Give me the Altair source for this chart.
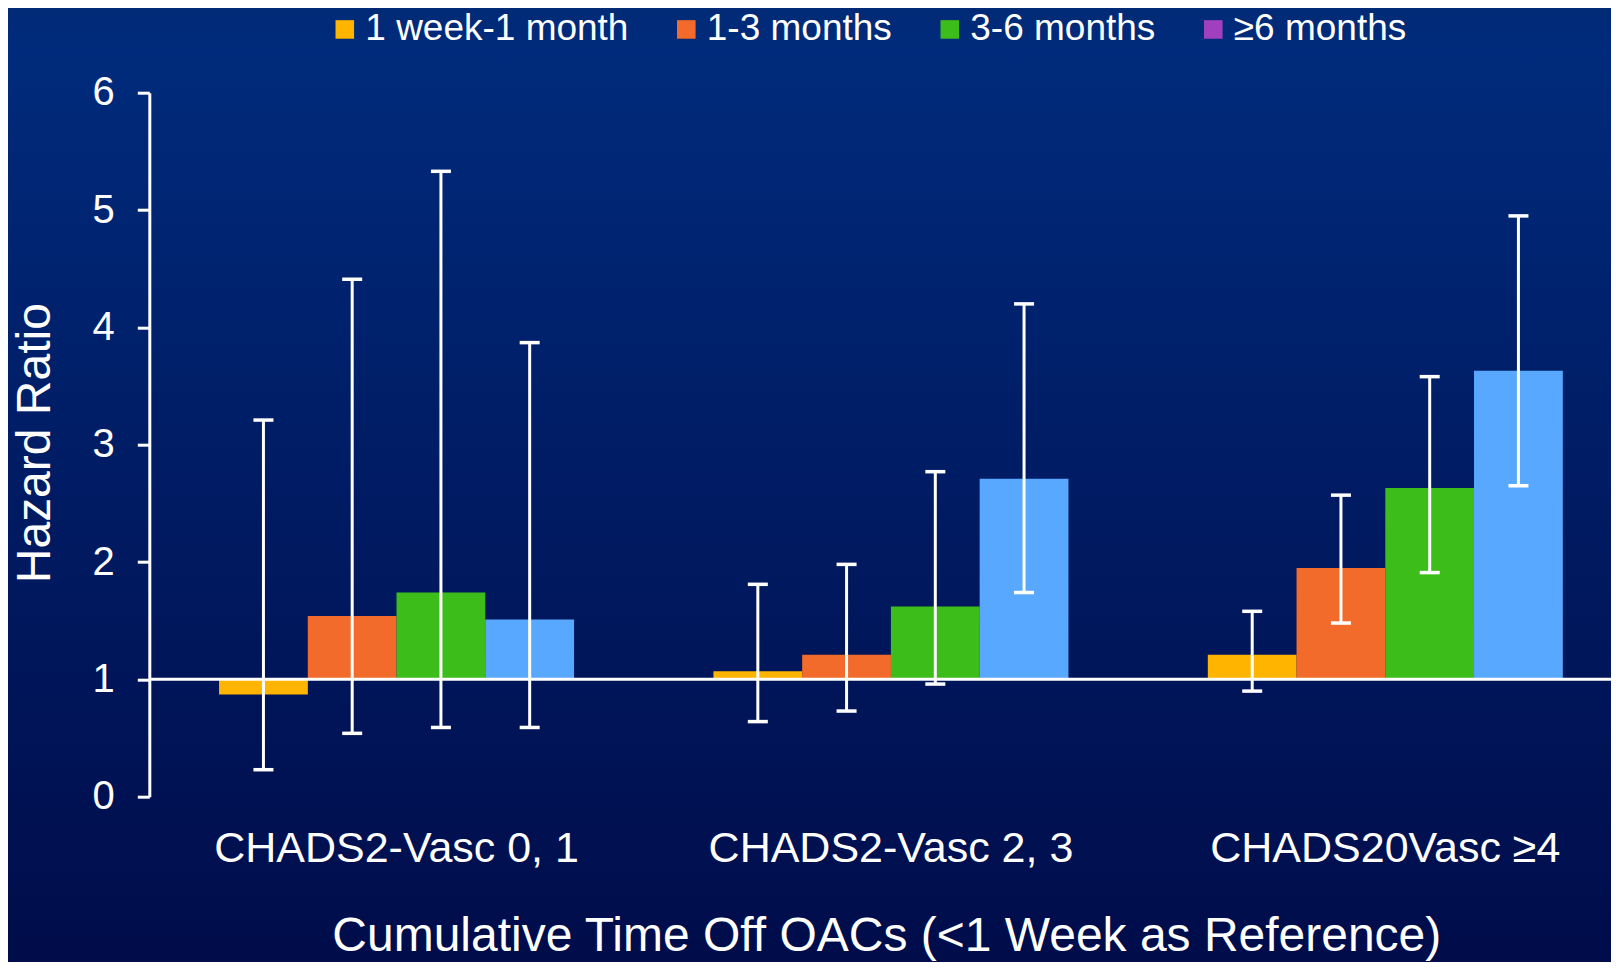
import altair as alt
import pandas as pd

groups = ["CHADS2-Vasc 0, 1", "CHADS2-Vasc 2, 3", "CHADS20Vasc ≥4"]
series = ["1 week-1 month", "1-3 months", "3-6 months", "≥6 months"]

hr_g1 = [0.87, 1.54, 1.74, 1.51]
hr_g2 = [1.07, 1.21, 1.62, 2.71]
hr_g3 = [1.21, 1.95, 2.63, 3.63]

lo_g1 = [0.23, 0.54, 0.59, 0.59]
lo_g2 = [0.64, 0.73, 0.96, 1.74]
lo_g3 = [0.90, 1.48, 1.91, 2.65]

hi_g1 = [3.21, 4.41, 5.33, 3.87]
hi_g2 = [1.81, 1.98, 2.77, 4.20]
hi_g3 = [1.58, 2.57, 3.58, 4.95]

y_ticks = [0, 1, 2, 3, 4, 5, 6]

bar_colors = ["#FFB400", "#F26B2A", "#3CBD1A", "#58A8FF"]
legend_colors = ["#FFB400", "#F26B2A", "#3CBD1A", "#A040C0"]

rows = []
for g, hrs, los, his in zip(groups, [hr_g1, hr_g2, hr_g3], [lo_g1, lo_g2, lo_g3], [hi_g1, hi_g2, hi_g3]):
    for s, h, l, u in zip(series, hrs, los, his):
        rows.append({"group": g, "series": s, "hr": h, "lo": l, "hi": u})
df = pd.DataFrame(rows)

W, H = 1462, 704
PL, PT, PB = 141.3, 84.7, 165
FONT = "Liberation Sans"

x_enc = alt.X("group:N", sort=groups,
              scale=alt.Scale(domain=groups, paddingInner=0.282, paddingOuter=0.1196, align=0.59),
              axis=alt.Axis(title="Cumulative Time Off OACs (<1 Week as Reference)",
                            domain=False, ticks=False, tickSize=0, labelAngle=0,
                            labelFont=FONT, labelFontSize=43, labelColor="white",
                            labelBaseline="alphabetic", labelPadding=65, labelLimit=600,
                            titleFont=FONT, titleFontSize=48, titleColor="white",
                            titleFontWeight="normal", titleBaseline="alphabetic",
                            titleX=737, titleY=154, titleAlign="center", zindex=2))
xo_enc = alt.XOffset("series:N", sort=series,
                     scale=alt.Scale(domain=series, paddingInner=0, paddingOuter=0))
y_scale = alt.Scale(domain=[0, 6], nice=False, zero=True)
y_axis = alt.Axis(title="Hazard Ratio", values=y_ticks, format="d", grid=False,
                  domainColor="white", domainWidth=3, tickColor="white", tickWidth=3,
                  tickSize=12, labelFont=FONT, labelFontSize=40, labelColor="white",
                  labelPadding=23, titleFont=FONT, titleFontSize=48, titleColor="white",
                  titleFontWeight="normal", titleAngle=-90, titleBaseline="middle",
                  titleAlign="center", titleX=-114, titleY=350, zindex=2)

bg = alt.Chart(pd.DataFrame({"a": [0]})).mark_rect(
    clip=False,
    fill=alt.LinearGradient(
        gradient="linear",
        stops=[alt.GradientStop(color="#022a74", offset=0),
               alt.GradientStop(color="#002b7c", offset=0.05),
               alt.GradientStop(color="#001d66", offset=0.45),
               alt.GradientStop(color="#000c4a", offset=1)],
        x1=0, x2=0, y1=0, y2=1)
).encode(x=alt.value(-PL - 10), x2=alt.value(W + 20), y=alt.value(-PT - 10), y2=alt.value(H + PB + 10))

bars = alt.Chart(df).mark_bar(size=88.8).encode(
    x=x_enc, xOffset=xo_enc,
    y=alt.Y("hr:Q", scale=y_scale, axis=y_axis),
    y2=alt.datum(1),
    color=alt.Color("series:N", scale=alt.Scale(domain=series, range=bar_colors), legend=None),
)

baseline = alt.Chart(pd.DataFrame({"a": [0]})).mark_rule(color="white", strokeWidth=3).encode(
    y=alt.datum(1), x=alt.value(0), x2=alt.value(W)
)

whisk = alt.Chart(df).mark_rule(color="white", strokeWidth=3).encode(
    x=x_enc, xOffset=xo_enc, y=alt.Y("lo:Q", scale=y_scale), y2="hi:Q"
)
cap_lo = alt.Chart(df).mark_tick(color="white", orient="horizontal", size=20, thickness=3.5, opacity=1).encode(
    x=x_enc, xOffset=xo_enc, y=alt.Y("lo:Q", scale=y_scale)
)
cap_hi = alt.Chart(df).mark_tick(color="white", orient="horizontal", size=20, thickness=3.5, opacity=1).encode(
    x=x_enc, xOffset=xo_enc, y=alt.Y("hi:Q", scale=y_scale)
)

leg = alt.Chart(df).mark_square(opacity=0, size=1).encode(
    x=x_enc, xOffset=xo_enc, y=alt.Y("hr:Q", scale=y_scale),
    color=alt.Color("series:N", scale=alt.Scale(domain=series, range=legend_colors),
                    legend=alt.Legend(orient="none", legendX=177, legendY=-82,
                                      direction="horizontal", title=None,
                                      symbolType="square", symbolSize=345, symbolOpacity=1,
                                      symbolStrokeWidth=0, labelFont=FONT, labelFontSize=37,
                                      labelColor="white", labelOffset=2, columnPadding=38.5,
                                      padding=0, labelLimit=400, zindex=3))
)

chart = alt.layer(bg, bars, baseline, whisk, cap_lo, cap_hi, leg).resolve_scale(
    color="independent"
).properties(
    width=W, height=H,
    autosize=alt.AutoSizeParams(type="none"),
    padding={"left": PL, "top": PT, "right": 0, "bottom": PB},
    background="#000c4a",
).configure_view(stroke=None)

chart.save("out.html", embed_options={"renderer": "svg", "actions": False})
